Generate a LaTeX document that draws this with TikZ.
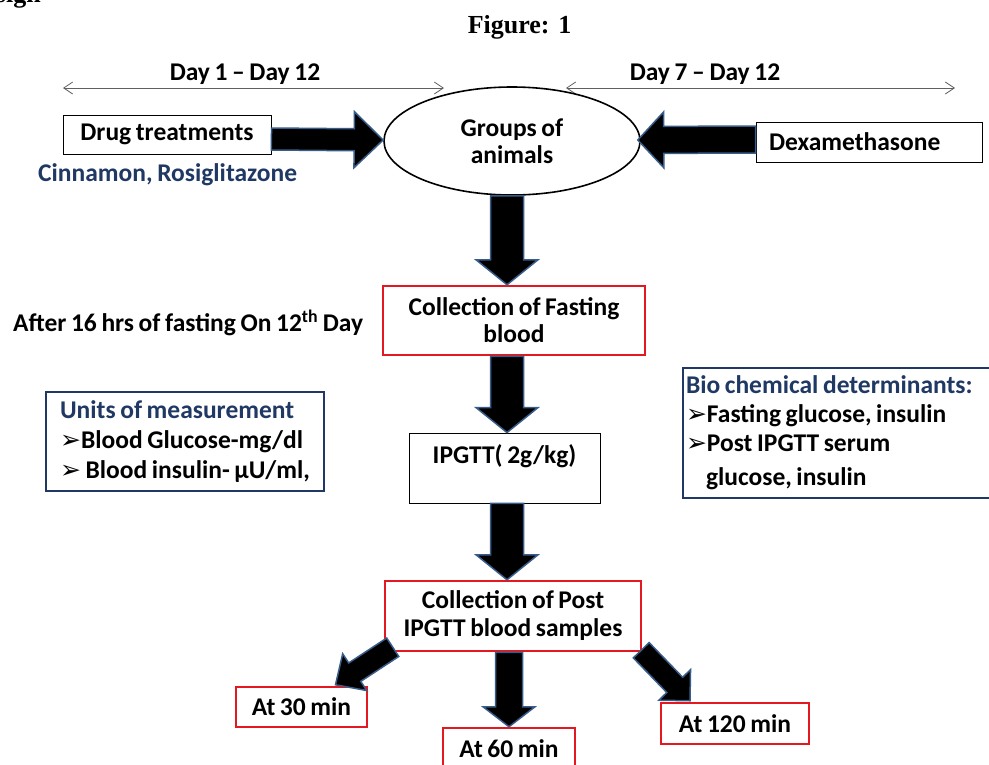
\documentclass[tikz,border=0pt]{standalone}
\usepackage{fontspec}
\setmainfont{Carlito}[WordSpace=0.8]
\newfontfamily\dvfont{DejaVu Sans}
\newfontfamily\tnrfont{Liberation Serif}
\usetikzlibrary{shapes.geometric,arrows.meta,calc}
\definecolor{navy}{HTML}{1F3864}
\definecolor{myred}{HTML}{E41820}
\definecolor{arrline}{HTML}{385D8A}
\definecolor{daygray}{HTML}{606060}
% block arrow: #1 start, #2 tip, #3 shaft half width, #4 head half width, #5 head length
\newcommand{\barrow}[5]{%
  \coordinate (bah) at ($(#2)!#5!(#1)$);
  \draw[blockarr] ($(#1)!#3!90:(#2)$) -- ($(bah)!#3!90:(#2)$) -- ($(bah)!#4!90:(#2)$)
    -- (#2) -- ($(bah)!#4!-90:(#2)$) -- ($(bah)!#3!-90:(#2)$) -- ($(#1)!#3!-90:(#2)$) -- cycle;
}
\newcommand{\bul}{{\dvfont\fontsize{25}{20}\selectfont ➢}}
\begin{document}
\begin{tikzpicture}[x=1pt,y=-1pt,
  every node/.style={font=\fontsize{25.5}{27}\selectfont\bfseries},
  bbox/.style={draw=black, line width=0.9pt, inner sep=0pt, fill=white},
  rbox/.style={draw=myred, line width=2.5pt, inner sep=0pt, fill=white},
  nbox/.style={draw=navy, line width=2pt, fill=white, inner sep=0pt},
  txt/.style={inner sep=0pt},
  dayarr/.style={draw=daygray, line width=0.8pt, {Straight Barb[length=9pt,width=12pt]}-{Straight Barb[length=9pt,width=12pt]}},
  blockarr/.style={fill=black, draw=arrline, line width=1.5pt, line join=miter},
]
\useasboundingbox (0,0) rectangle (989,764);
\fill[white] (0,0) rectangle (989,764);

% title fragments
\node[txt, anchor=base east, font=\tnrfont\bfseries\fontsize{26}{30}\selectfont] (design) at (41,2) {Design};
\node[txt, anchor=base, font=\tnrfont\bfseries\fontsize{26}{30}\selectfont] (fig) at (519.5,33) {Figure: 1};

% day ranges
\coordinate (d1l) at (63,88);
\coordinate (d1r) at (444,88);
\coordinate (d2l) at (566,88);
\coordinate (d2r) at (955,88);
\draw[dayarr] (d1l) -- (d1r);
\draw[dayarr] (d2l) -- (d2r);
\node[txt] (day1) at (245,74) {Day 1 – Day 12};
\node[txt] (day2) at (705,74) {Day 7 – Day 12};

% top row
\node[bbox, minimum width=208pt, minimum height=39pt] (drug) at (167,134.5) {Drug treatments};
\node[txt, text=navy, anchor=west] (cin) at (38,175) {Cinnamon, Rosiglitazone};
\node[ellipse, draw=black, line width=1.6pt, fill=white, minimum width=256pt, minimum height=108pt, inner sep=0pt, align=center] (el) at (512,141) {Groups of\\animals};
\node[bbox, minimum width=226pt, minimum height=40pt, text width=200pt, inner xsep=13pt, align=left] (dexa) at (869,142) {Dexamethasone};

% left labels
\node[txt, anchor=west] (after) at (13,323) {After 16 hrs of fasting On 12\textsuperscript{th} Day};
\node[nbox, anchor=north west, minimum width=278pt, minimum height=99pt, align=left, font=\fontsize{25.5}{30}\selectfont\bfseries] (units) at (45,391)
  {{\color{navy}Units of measurement}\\\bul Blood Glucose-mg/dl\\\bul{} Blood insulin- µU/ml,};
\node[nbox, anchor=north west, minimum width=326pt, minimum height=130pt, text width=320pt, inner xsep=3pt, align=left, font=\fontsize{25.5}{29}\selectfont\bfseries] (bio) at (682,367)
  {\spaceskip=0pt\xspaceskip=0pt\relax{\color{navy}Bio chemical determinants:}\\\bul Fasting glucose, insulin\\\bul Post IPGTT serum\\[5pt]\hspace*{20pt}glucose, insulin\par\vspace*{7pt}};

% flow boxes
\node[rbox, minimum width=262pt, minimum height=69pt, align=center] (fast) at (514,320.5) {Collection of Fasting\\blood};
\node[bbox, minimum width=191pt, minimum height=70pt, align=center] (ipg) at (504.5,468) {IPGTT( 2g/kg)\\~};
\node[rbox, minimum width=256pt, minimum height=70pt, align=center, font=\fontsize{25.5}{28}\selectfont\bfseries] (post) at (513,616) {Collection of Post\\IPGTT blood samples};
\node[rbox, minimum width=131pt, minimum height=40pt] (a30) at (301.5,707) {At 30 min};
\node[rbox, minimum width=132pt, minimum height=42pt] (a60) at (509,749) {At 60 min};
\node[rbox, minimum width=148pt, minimum height=41pt] (a120) at (735,723.5) {At 120 min};

% block arrows
\coordinate (ax) at (507,0);
\coordinate (s1) at ($(drug.east)+(0,4.5)$);
\coordinate (t1) at ($(el.west)+(0,-1)$);
\barrow{s1}{t1}{11pt}{28pt}{29pt}
\coordinate (s2) at ($(dexa.west)+(0,-2.5)$);
\coordinate (t2) at ($(el.east)+(-3,-1)$);
\barrow{s2}{t2}{13.5pt}{28pt}{26pt}
\coordinate (s3) at (ax |- el.south);
\coordinate (t3) at (ax |- fast.north);
\barrow{s3}{t3}{16.5pt}{31pt}{25pt}
\coordinate (s4) at (ax |- fast.south);
\coordinate (t4) at (ax |- ipg.north);
\barrow{s4}{t4}{16.5pt}{31pt}{25pt}
\coordinate (s5) at (ax |- ipg.south);
\coordinate (t5) at (ax |- post.north);
\barrow{s5}{t5}{16.5pt}{31pt}{25pt}
\coordinate (s6) at (a60.north |- post.south);
\coordinate (t6) at (a60.north);
\barrow{s6}{t6}{13.5pt}{26pt}{20pt}
\coordinate (s7) at ($(post.south west)+(9,-5)$);
\coordinate (t7) at ($(a30.north)+(34,-1)$);
\barrow{s7}{t7}{11pt}{22pt}{23pt}
\coordinate (s8) at ($(post.south east)+(-1,-2)$);
\coordinate (t8) at ($(a120.north)+(-45,-1)$);
\barrow{s8}{t8}{11pt}{22pt}{22pt}
\end{tikzpicture}
\end{document}
